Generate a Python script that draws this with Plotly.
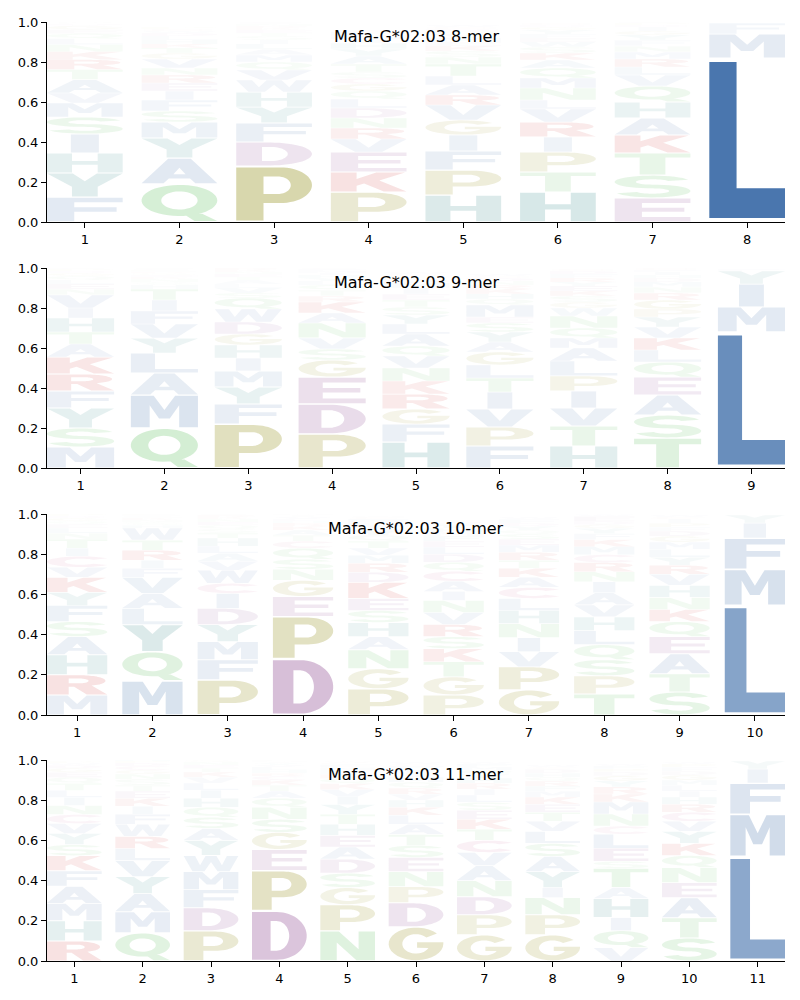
import numpy as np
import plotly.graph_objects as go

# ---------------- data ----------------
TITLES = ["Mafa-G*02:03 8-mer", "Mafa-G*02:03 9-mer",
          "Mafa-G*02:03 10-mer", "Mafa-G*02:03 11-mer"]

# stack order (bottom -> top) and heights per position
ORDER_8 = ["FYHISMVATRKNLQEGDCWP", "QAYMSFIERNVGTKHLDWCP", "PDFYHWVQMALISTEKRNGC",
           "PKEVRNDLQGCSTAYHIMFW", "HPFIGVRALTNSKEMYQDCW", "HTPIRVLNMQAKSWEFYGDC",
           "ESTKAHQVLRMNFYGIDPCW", "LMFIVYAWCTSNQKRHEDGP"]
HEIGHT_8 = [
    [.125, .12, .1, .095, .085, .07, .05, .067, .05, .05, .04, .035, .03, .025, .02, .02, .01, .005, .005, .005],
    [.19, .13, .1, .08, .055, .055, .045, .04, .04, .035, .045, .03, .025, .02, .02, .02, .015, .01, .01, .01],
    [.28, .12, .095, .08, .075, .06, .05, .04, .035, .03, .025, .02, .02, .015, .015, .01, .01, .01, .005, .005],
    [.15, .1, .1, .065, .055, .05, .05, .045, .04, .035, .03, .03, .04, .04, .035, .03, .02, .02, .015, .01],
    [.135, .125, .095, .08, .075, .075, .05, .05, .045, .06, .035, .03, .025, .02, .02, .02, .015, .01, .01, .01],
    [.15, .1, .1, .075, .075, .065, .045, .06, .05, .05, .04, .035, .03, .025, .02, .02, .02, .015, .01, .01],
    [.12, .115, .11, .09, .085, .08, .08, .055, .04, .04, .035, .03, .03, .025, .02, .02, .01, .01, .005, .005],
    [.82, .12, .055, .001, .001, .001, .001, .001, .001, .001, .001, .001, .001, .001, .001, .001, .001, .001, .001, .001],
]

ORDER_9 = ["MSYFRKATHIVNELQGDPCW", "QMALYVFITHSNKEGRDPCW", "PFYMIHGDWQSVLATENKRC",
           "PDEGSVNAKRTQLYHIMFCW", "HFGRKNVQALYSTEIMDPCW", "FPVITLGAYSEMQHKRNDCW",
           "HTVIPLAMQNWGSKEYRFDC", "TSAEQLKVYPGRNMDHIFCW", "LMIYFVAWCTSNQKRHEDGP"]
HEIGHT_9 = [
    [.105, .095, .1, .085, .085, .085, .065, .06, .07, .05, .065, .03, .025, .02, .02, .015, .01, .01, .005, .005],
    [.2, .165, .11, .1, .075, .07, .065, .055, .055, .02, .015, .015, .01, .01, .01, .005, .005, .005, .005, .005],
    [.22, .1, .085, .08, .065, .065, .055, .06, .065, .055, .025, .025, .02, .02, .015, .015, .01, .01, .01, .005],
    [.17, .15, .135, .085, .055, .055, .075, .05, .055, .03, .03, .025, .02, .015, .015, .01, .01, .01, .005, .005],
    [.13, .09, .075, .075, .065, .065, .06, .05, .06, .05, .045, .04, .035, .03, .03, .025, .02, .015, .01, .01],
    [.11, .095, .09, .085, .07, .065, .065, .05, .05, .045, .03, .06, .03, .025, .025, .02, .02, .015, .01, .01],
    [.11, .1, .09, .085, .075, .075, .065, .05, .05, .06, .04, .03, .03, .025, .025, .02, .02, .02, .015, .01],
    [.15, .115, .1, .09, .075, .06, .06, .055, .05, .04, .045, .035, .03, .025, .02, .015, .015, .01, .01, .005],
    [.68, .125, .115, .065, .01, .001, .001, .001, .001, .001, .001, .001, .001, .001, .001, .001, .001, .001, .001, .001],
]

ORDER_10 = ["MRHASFYKVCITNLEQGDPW", "MQYLAVFIRTWHSNKEGDPC", "PFMYDICWVALHTSQENKRG",
            "DPEGNSQCTAKRHLVYIMFW", "PGNAHSEKDRMVTQYILFCW", "PGTKSRVNIACQDLEFMHYW",
            "GPVINHLCAKTRMESQYDFW", "TPSQLHVAINRCMKFYGDEW", "STAEQKNHVRYLMGDFPICW",
            "LMFIYVAWCTSNQKRHEDGP"]
HEIGHT_10 = [
    [.1, .1, .1, .09, .075, .08, .065, .075, .05, .055, .04, .045, .03, .025, .02, .015, .015, .01, .01, .005],
    [.17, .145, .135, .08, .075, .08, .045, .04, .05, .05, .06, .015, .015, .01, .01, .005, .005, .005, .005, .005],
    [.175, .1, .09, .085, .08, .075, .05, .065, .045, .04, .035, .04, .025, .02, .02, .015, .015, .01, .01, .005],
    [.28, .21, .1, .08, .055, .05, .055, .035, .03, .025, .02, .015, .01, .01, .01, .005, .005, .005, .005, .005],
    [.13, .1, .095, .065, .07, .06, .06, .08, .05, .045, .04, .035, .035, .03, .025, .02, .02, .015, .01, .005],
    [.1, .09, .075, .065, .06, .06, .06, .06, .045, .05, .05, .045, .04, .035, .03, .025, .02, .02, .02, .01],
    [.125, .115, .075, .07, .07, .065, .06, .055, .05, .045, .04, .04, .035, .03, .025, .02, .02, .015, .02, .01],
    [.105, .09, .08, .075, .07, .068, .06, .06, .055, .05, .045, .04, .04, .035, .03, .025, .02, .015, .025, .01],
    [.115, .09, .1, .085, .075, .06, .06, .06, .055, .045, .04, .04, .035, .03, .025, .02, .02, .02, .01, .01],
    [.545, .18, .155, .075, .04, .0005, .0005, .0005, .0005, .0005, .0005, .0005, .0005, .0005, .0005, .0005, .0005, .0005, .0005, .0005],
]

ORDER_11 = ["RHMAFKSYVCNILTQEGDWP", "QMAYVLRWFIKETSNGCDPH", "PDFMWYASQHILVKTENGRC",
            "DPEGSNQATKCRHLVYIMFW", "NPGSDAEHTYIVKQRLMFCW", "GDPNESTALKHVRQMIYFCW",
            "GPDNAVCTKESLIRHYQMFW", "GPNIYASLVTEKMFRQHDCW", "VQIHATSELCNMKRYGDPFW",
            "STAENQKYVCRHILMGDFPW", "LMFIYVAWCTSNQKRHEDGP"]
HEIGHT_11 = [
    [.1, .1, .087, .085, .077, .075, .055, .055, .05, .045, .045, .04, .035, .035, .03, .025, .02, .015, .01, .01],
    [.14, .105, .09, .085, .08, .06, .06, .06, .05, .04, .04, .035, .03, .03, .025, .02, .02, .015, .01, .01],
    [.15, .115, .09, .09, .08, .075, .06, .055, .05, .045, .04, .035, .03, .025, .02, .015, .015, .01, .01, .005],
    [.25, .2, .105, .085, .065, .06, .045, .035, .03, .025, .02, .015, .015, .015, .01, .01, .005, .005, .005, .005],
    [.15, .13, .085, .072, .07, .06, .058, .055, .05, .048, .04, .035, .03, .025, .02, .02, .015, .015, .01, .005],
    [.17, .12, .08, .075, .07, .06, .055, .05, .045, .04, .035, .03, .03, .03, .025, .02, .02, .015, .01, .01],
    [.13, .1, .09, .08, .075, .065, .06, .055, .05, .045, .04, .035, .03, .03, .025, .02, .02, .015, .015, .01],
    [.13, .1, .085, .05, .08, .075, .065, .06, .05, .045, .04, .035, .03, .025, .025, .02, .02, .02, .01, .01],
    [.066, .085, .065, .095, .055, .095, .035, .065, .07, .04, .06, .06, .04, .035, .03, .025, .02, .015, .015, .01],
    [.115, .1, .1, .075, .075, .06, .06, .06, .05, .045, .04, .035, .03, .03, .025, .025, .02, .02, .015, .01],
    [.52, .21, .155, .07, .04, .0005, .0005, .0005, .0005, .0005, .0005, .0005, .0005, .0005, .0005, .0005, .0005, .0005, .0005, .0005],
]

PANELS = [(ORDER_8, HEIGHT_8), (ORDER_9, HEIGHT_9), (ORDER_10, HEIGHT_10), (ORDER_11, HEIGHT_11)]

# ---------------- style ----------------
BLUE = (74, 118, 174)
OLIVE = (142, 137, 15)
PURPLE = (137, 67, 142)
GREEN = (79, 184, 79)
RED = (200, 20, 20)
TEAL = (40, 130, 130)
PINK = (190, 60, 120)
COLORS = {c: BLUE for c in "AFILMVW"}
COLORS.update({c: OLIVE for c in "PG"})
COLORS.update({c: PURPLE for c in "DE"})
COLORS.update({c: GREEN for c in "NQST"})
COLORS.update({c: RED for c in "KR"})
COLORS.update({c: TEAL for c in "HY"})
COLORS["C"] = PINK
ALPHA_REF = 0.82
WIDTH = 0.8
VPAD = 0.05


def arc(cx, cy, rx, ry, a0, a1, n=30):
    t = np.radians(np.linspace(a0, a1, n))
    return [(cx + rx * np.cos(a), cy + ry * np.sin(a)) for a in t]


def s_glyph():
    tu, tv = 0.28, 0.18
    mrx, mry = 0.36, 0.22
    top_in = arc(0.5, 0.72, mrx - tu / 2, mry - tv / 2, 20, 270)
    top_out = arc(0.5, 0.72, mrx + tu / 2, mry + tv / 2, 20, 270)
    bot_out = arc(0.5, 0.28, mrx + tu / 2, mry + tv / 2, 90, -160)
    bot_in = arc(0.5, 0.28, mrx - tu / 2, mry - tv / 2, 90, -160)
    side_a = top_in + bot_out
    side_b = top_out + bot_in
    return [(side_a + side_b[::-1], False)]


G = {}
G['A'] = [([(0, 0), (0.29, 0), (0.36, 0.2), (0.64, 0.2), (0.71, 0), (1, 0), (0.65, 1), (0.35, 1)], False),
          ([(0.42, 0.37), (0.58, 0.37), (0.5, 0.63)], True)]
G['C'] = [(arc(0.5, 0.5, 0.5, 0.5, 40, 320) + arc(0.5, 0.5, 0.24, 0.29, 320, 40), False)]
G['D'] = [([(0, 0), (0.45, 0)] + arc(0.45, 0.5, 0.55, 0.5, -90, 90) + [(0, 1)], False),
          ([(0.34, 0.19), (0.45, 0.19)] + arc(0.45, 0.5, 0.23, 0.31, -90, 90) + [(0.34, 0.81)], True)]
G['E'] = [([(0, 0), (1, 0), (1, 0.19), (0.36, 0.19), (0.36, 0.42), (0.92, 0.42), (0.92, 0.6),
            (0.36, 0.6), (0.36, 0.81), (1, 0.81), (1, 1), (0, 1)], False)]
G['F'] = [([(0, 0), (0.36, 0), (0.36, 0.4), (0.92, 0.4), (0.92, 0.59), (0.36, 0.59),
            (0.36, 0.81), (1, 0.81), (1, 1), (0, 1)], False)]
G['G'] = [(arc(0.5, 0.5, 0.5, 0.5, 40, 360) + [(1.0, 0.55), (0.52, 0.55), (0.52, 0.38)]
           + arc(0.5, 0.5, 0.25, 0.3, 335, 40), False)]
G['H'] = [([(0, 0), (0.33, 0), (0.33, 0.41), (0.67, 0.41), (0.67, 0), (1, 0), (1, 1), (0.67, 1),
            (0.67, 0.6), (0.33, 0.6), (0.33, 1), (0, 1)], False)]
G['I'] = [([(0, 0), (1, 0), (1, 1), (0, 1)], False)]
G['K'] = [([(0, 0), (0.34, 0), (0.34, 0.3), (0.44, 0.42), (0.7, 0), (1, 0), (0.64, 0.58),
            (0.98, 1), (0.6, 1), (0.34, 0.66), (0.34, 1), (0, 1)], False)]
G['L'] = [([(0, 0), (1, 0), (1, 0.19), (0.36, 0.19), (0.36, 1), (0, 1)], False)]
G['M'] = [([(0, 0), (0.28, 0), (0.28, 0.7), (0.42, 0.28), (0.58, 0.28), (0.72, 0.7), (0.72, 0),
            (1, 0), (1, 1), (0.66, 1), (0.5, 0.55), (0.34, 1), (0, 1)], False)]
G['N'] = [([(0, 0), (0.3, 0), (0.3, 0.62), (0.66, 0), (1, 0), (1, 1), (0.7, 1), (0.7, 0.38),
            (0.34, 1), (0, 1)], False)]
G['P'] = [([(0, 0), (0.36, 0), (0.36, 0.33), (0.58, 0.33)] + arc(0.58, 0.665, 0.42, 0.335, -90, 90) + [(0, 1)], False),
          ([(0.36, 0.5), (0.55, 0.5)] + arc(0.55, 0.665, 0.17, 0.165, -90, 90) + [(0.36, 0.83)], True)]
G['Q'] = [(arc(0.5, 0.57, 0.5, 0.43, 0, 360, 48), False),
          (arc(0.5, 0.57, 0.24, 0.25, 0, 360, 40), True),
          ([(0.55, 0.2), (0.8, 0.2), (1.0, 0.0), (0.7, 0.0)], False)]
G['R'] = [([(0, 0), (0.36, 0), (0.36, 0.4), (0.45, 0.4), (0.66, 0), (1, 0), (0.74, 0.46)]
           + arc(0.55, 0.71, 0.42, 0.29, -40, 90) + [(0, 1)], False),
          ([(0.36, 0.58), (0.54, 0.58)] + arc(0.54, 0.705, 0.15, 0.125, -90, 90) + [(0.36, 0.83)], True)]
G['S'] = s_glyph()
G['T'] = [([(0, 1), (1, 1), (1, 0.81), (0.67, 0.81), (0.67, 0), (0.33, 0), (0.33, 0.81), (0, 0.81)], False)]
G['V'] = [([(0, 1), (0.33, 1), (0.5, 0.32), (0.67, 1), (1, 1), (0.68, 0), (0.32, 0)], False)]
G['W'] = [([(0, 1), (0.21, 1), (0.3, 0.38), (0.4, 1), (0.6, 1), (0.7, 0.38), (0.79, 1), (1, 1),
            (0.84, 0), (0.62, 0), (0.5, 0.6), (0.38, 0), (0.16, 0)], False)]
G['Y'] = [([(0, 1), (0.34, 1), (0.5, 0.66), (0.66, 1), (1, 1), (0.67, 0.42), (0.67, 0), (0.33, 0),
            (0.33, 0.42)], False)]


def signed_area(pts):
    a = 0.0
    for i in range(len(pts)):
        x1, y1 = pts[i]
        x2, y2 = pts[(i + 1) % len(pts)]
        a += x1 * y2 - x2 * y1
    return a / 2


# normalise every glyph to the unit box, fix orientation for nonzero fill
GLYPHS = {}
for letter, rings in G.items():
    solid = [p for r, h in rings if not h for p in r]
    xs = [p[0] for p in solid]
    ys = [p[1] for p in solid]
    x0, x1, y0, y1 = min(xs), max(xs), min(ys), max(ys)
    out = []
    for r, hole in rings:
        pts = [((x - x0) / (x1 - x0), (y - y0) / (y1 - y0)) for x, y in r]
        if letter == 'I':
            pts = [(0.315 + 0.37 * u, v) for u, v in pts]
        a = signed_area(pts)
        if (a < 0 and not hole) or (a > 0 and hole):
            pts = pts[::-1]
        out.append(pts)
    GLYPHS[letter] = out


def glyph_path(letter, xc, y0, h):
    pad = h * VPAD / 2
    gh = h - 2 * pad
    left = xc - WIDTH / 2
    segs = []
    for ring in GLYPHS[letter]:
        pts = [f"{left + u * WIDTH:.4f},{y0 + pad + v * gh:.5f}" for u, v in ring]
        segs.append("M" + "L".join(pts) + "Z")
    return "".join(segs)


fig = go.Figure()
shapes = []
annotations = []

px_top = [22, 268, 514, 760]
px_bot = [222, 468, 715, 961]
FONT = "DejaVu Sans"

for i, (orders, heights) in enumerate(PANELS):
    ax = "" if i == 0 else str(i + 1)
    n = len(orders)
    for p in range(n):
        xc = p + 1
        base = 0.0
        for letter, h in zip(orders[p], heights[p]):
            if h >= 0.002:
                r, g, b = COLORS[letter]
                a = min(1.0, h / ALPHA_REF)
                shapes.append(dict(type="path", path=glyph_path(letter, xc, base, h),
                                   xref="x" + ax, yref="y" + ax,
                                   fillcolor=f"rgba({r},{g},{b},{a:.3f})",
                                   line=dict(width=0), fillrule="nonzero", layer="above"))
            base += h
    fig.add_trace(go.Scatter(x=[None], y=[None], xaxis="x" + ax, yaxis="y" + ax,
                             showlegend=False, hoverinfo="skip"))
    ydom = [1 - px_bot[i] / 1000, 1 - px_top[i] / 1000]
    axis_common = dict(showline=True, linecolor="black", linewidth=1, ticks="outside",
                       ticklen=5, tickwidth=1, tickcolor="black", showgrid=False, zeroline=False,
                       automargin=False,
                       tickfont=dict(family=FONT, size=13, color="black"))
    fig.layout["xaxis" + ax] = dict(domain=[47 / 800, 785 / 800], range=[0.6, n + 0.4],
                                    anchor="y" + ax, tickmode="array",
                                    tickvals=list(range(1, n + 1)),
                                    ticktext=[str(k) for k in range(1, n + 1)], **axis_common)
    fig.layout["yaxis" + ax] = dict(domain=ydom, range=[0, 1], anchor="x" + ax, tickmode="array",
                                    tickvals=[0, 0.2, 0.4, 0.6, 0.8, 1.0],
                                    ticktext=["0.0", "0.2", "0.4", "0.6", "0.8", "1.0"], **axis_common)
    annotations.append(dict(text=TITLES[i], x=0.5, y=0.93, xref="x" + ax + " domain",
                            yref="y" + ax + " domain", showarrow=False, xanchor="center",
                            yanchor="middle", font=dict(family=FONT, size=16, color="black")))

fig.update_layout(width=800, height=1000, margin=dict(l=0, r=0, t=0, b=0, pad=0, autoexpand=False),
                  plot_bgcolor="white", paper_bgcolor="white", showlegend=False,
                  shapes=shapes, annotations=annotations)
fig.write_html("out.html")
